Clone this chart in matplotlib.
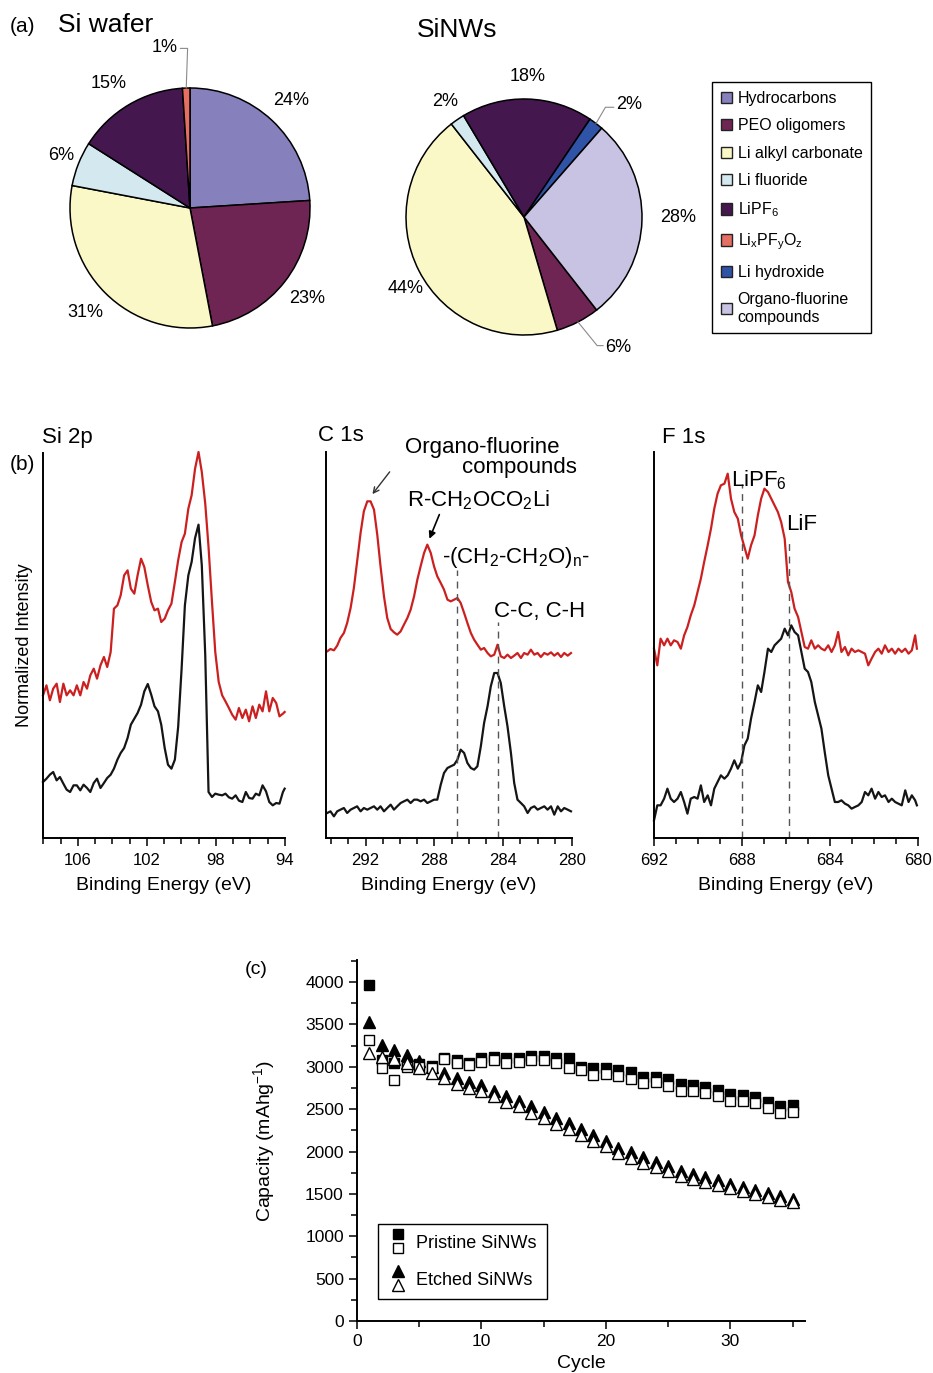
import matplotlib.pyplot as plt
import numpy as np
from matplotlib.legend_handler import HandlerBase
from matplotlib.lines import Line2D
from matplotlib.patches import Patch
from matplotlib.ticker import MultipleLocator

plt.rcParams['font.family'] = ['Liberation Sans', 'DejaVu Sans']
plt.rcParams['mathtext.default'] = 'regular'

# ---------------- (a) SEI composition (%)
components = ['Hydrocarbons', 'PEO oligomers', 'Li alkyl carbonate', 'Li fluoride',
              'LiPF$_6$', 'Li$_x$PF$_y$O$_z$', 'Li hydroxide', 'Organo-fluorine\ncompounds']
comp_colors = ['#8680bd', '#6f2553', '#fbf8c8', '#d4e9ef',
               '#45174f', '#e56f63', '#2f53a6', '#c8c3e3']
wafer_pct = [24, 23, 31, 6, 15, 1, 0, 0]
nw_pct = [0, 6, 44, 2, 18, 0, 2, 28]

# ---------------- (b) XPS spectra (arbitrary intensity units)
si_energy = [108.02, 107.82, 107.62, 107.43, 107.23, 107.04, 106.84, 106.65, 106.45, 106.25,
             106.06, 105.86, 105.67, 105.47, 105.28, 105.08, 104.89, 104.69, 104.49, 104.30,
             104.10, 103.91, 103.71, 103.52, 103.32, 103.12, 102.93, 102.73, 102.54, 102.34,
             102.15, 101.95, 101.75, 101.56, 101.36, 101.17, 100.97, 100.78, 100.58, 100.38,
             100.19, 99.99, 99.80, 99.60, 99.41, 99.21, 99.01, 98.82, 98.62, 98.43,
             98.23, 98.04, 97.84, 97.64, 97.45, 97.25, 97.06, 96.86, 96.67, 96.47,
             96.27, 96.08, 95.88, 95.69, 95.49, 95.30, 95.10, 94.91, 94.71, 94.51,
             94.32, 94.12, 94.02]
si_red = [428, 458, 413, 448, 463, 408, 463, 428, 443, 428,
          458, 428, 468, 448, 488, 508, 478, 518, 543, 513,
          558, 688, 698, 728, 788, 803, 748, 733, 788, 838,
          813, 758, 708, 683, 688, 648, 658, 683, 703, 768,
          833, 888, 913, 988, 1028, 1108, 1158, 1098, 1003, 873,
          708, 558, 468, 428, 410, 390, 370, 355, 390, 360,
          385, 350, 395, 360, 400, 380, 440, 380, 420, 405,
          365, 373, 378]
si_black = [168, 178, 190, 198, 173, 183, 163, 145, 138, 158,
            158, 143, 160, 150, 138, 165, 178, 150, 165, 180,
            190, 208, 235, 255, 270, 300, 340, 358, 375, 400,
            440, 462, 430, 395, 380, 340, 270, 220, 208, 235,
            333, 508, 698, 788, 828, 900, 940, 818, 548, 138,
            123, 133, 130, 128, 133, 122, 118, 128, 112, 108,
            138, 120, 118, 133, 128, 158, 140, 108, 98, 105,
            103, 138, 148]

c_energy = [294.23, 294.04, 293.84, 293.65, 293.46, 293.26, 293.07, 292.87, 292.68, 292.49,
            292.29, 292.10, 291.90, 291.71, 291.51, 291.32, 291.13, 290.93, 290.74, 290.54,
            290.35, 290.16, 289.96, 289.77, 289.57, 289.38, 289.18, 288.99, 288.80, 288.60,
            288.41, 288.21, 288.02, 287.83, 287.63, 287.44, 287.24, 287.05, 286.85, 286.66,
            286.47, 286.27, 286.08, 285.88, 285.69, 285.50, 285.30, 285.11, 284.91, 284.72,
            284.52, 284.33, 284.14, 283.94, 283.75, 283.55, 283.36, 283.17, 282.97, 282.78,
            282.58, 282.39, 282.19, 282.00, 281.81, 281.61, 281.42, 281.22, 281.03, 280.83,
            280.64, 280.45, 280.25, 280.06]
c_red = [560, 567, 563, 577, 600, 615, 645, 690, 750, 830,
         915, 980, 1010, 1010, 985, 910, 815, 725, 660, 627,
         617, 610, 620, 640, 660, 685, 725, 775, 815, 855,
         880, 855, 815, 785, 765, 745, 715, 710, 715, 720,
         705, 675, 645, 615, 595, 580, 565, 570, 555, 545,
         550, 580, 545, 540, 550, 540, 547, 555, 540, 555,
         550, 565, 550, 555, 543, 555, 550, 557, 547, 555,
         543, 555, 547, 555]
c_black = [75, 80, 65, 80, 85, 90, 75, 85, 90, 95,
           80, 90, 85, 90, 95, 85, 95, 80, 90, 100,
           85, 95, 105, 110, 115, 105, 115, 115, 110, 115,
           105, 110, 115, 115, 160, 195, 210, 215, 220, 235,
           265, 255, 225, 210, 205, 215, 275, 345, 395, 455,
           495, 495, 465, 395, 335, 255, 165, 115, 105, 95,
           75, 90, 95, 85, 90, 95, 85, 95, 70, 95,
           80, 90, 85, 80]

f_energy = [692.00, 691.85, 691.70, 691.54, 691.39, 691.24, 691.09, 690.93, 690.78, 690.63,
            690.48, 690.33, 690.17, 690.02, 689.87, 689.72, 689.56, 689.41, 689.26, 689.11,
            688.96, 688.80, 688.65, 688.50, 688.35, 688.19, 688.04, 687.89, 687.74, 687.59,
            687.43, 687.28, 687.13, 686.98, 686.82, 686.67, 686.52, 686.37, 686.22, 686.06,
            685.91, 685.76, 685.61, 685.45, 685.30, 685.15, 685.00, 684.85, 684.69, 684.54,
            684.39, 684.24, 684.08, 683.93, 683.78, 683.63, 683.48, 683.32, 683.17, 683.02,
            682.87, 682.71, 682.56, 682.41, 682.26, 682.11, 681.95, 681.80, 681.65, 681.50,
            681.34, 681.19, 681.04, 680.89, 680.74, 680.58, 680.43, 680.28, 680.13, 680.05]
f_red = [568, 518, 598, 578, 598, 578, 593, 588, 568, 608,
         633, 668, 698, 738, 778, 828, 878, 928, 988, 1033,
         1058, 1063, 1093, 1018, 978, 958, 908, 873, 838, 878,
         908, 968, 1018, 1048, 1038, 1018, 998, 978, 948, 898,
         768, 738, 688, 663, 618, 573, 568, 593, 568, 578,
         568, 563, 578, 558, 578, 618, 558, 573, 548, 568,
         558, 563, 558, 553, 518, 538, 558, 568, 553, 578,
         558, 568, 553, 568, 558, 568, 553, 563, 608, 568]
f_black = [53, 98, 98, 118, 148, 118, 108, 118, 138, 108,
           73, 118, 123, 118, 158, 108, 128, 98, 148, 168,
           188, 178, 188, 208, 233, 208, 228, 278, 298, 358,
           408, 458, 438, 498, 568, 558, 578, 588, 598, 628,
           608, 638, 618, 608, 558, 508, 498, 468, 408, 368,
           328, 258, 188, 148, 108, 108, 113, 103, 98, 88,
           93, 98, 108, 138, 128, 148, 118, 138, 123, 128,
           108, 118, 108, 103, 98, 143, 108, 128, 113, 98]

# ---------------- (c) cycling capacity (mAh/g)
cycles = list(range(1, 36))
pristine_filled = [3960, 3080, 3050, 3020, 3030, 3010, 3100, 3080, 3050, 3100,
                   3120, 3100, 3100, 3130, 3130, 3100, 3100, 3000, 2980, 2980,
                   2960, 2940, 2880, 2880, 2850, 2800, 2780, 2760, 2730, 2680,
                   2670, 2640, 2590, 2540, 2550]
pristine_open = [3320, 2990, 2840, 3000, 3000, 2980, 3090, 3040, 3020, 3060,
                 3080, 3050, 3060, 3080, 3080, 3040, 2990, 2960, 2900, 2920,
                 2890, 2860, 2810, 2820, 2770, 2720, 2710, 2690, 2650, 2600,
                 2600, 2570, 2510, 2460, 2470]
etched_filled = [3530, 3260, 3200, 3140, 3070, 3000, 2930, 2870, 2820, 2780,
                 2720, 2660, 2600, 2540, 2470, 2400, 2340, 2270, 2190, 2130,
                 2040, 1990, 1930, 1880, 1830, 1770, 1730, 1700, 1660, 1620,
                 1580, 1540, 1510, 1480, 1440]
etched_open = [3160, 3120, 3090, 3040, 2980, 2930, 2870, 2800, 2750, 2710,
               2650, 2590, 2540, 2460, 2390, 2330, 2260, 2190, 2120, 2060,
               1980, 1920, 1870, 1820, 1770, 1710, 1670, 1640, 1600, 1570,
               1530, 1500, 1460, 1430, 1410]

RED = '#cc2020'
BLACK = '#151515'

fig = plt.figure(figsize=(9.33, 13.73), dpi=100)


def px(x, y, w, h):
    # pixel box (left, top, width, height) -> figure fraction
    W, H = 933, 1373
    return [x / W, 1 - (y + h) / H, w / W, h / H]


# ---------------- pies
def draw_pie(ax, pct, start, dist, overrides, leaders):
    keep = [i for i, v in enumerate(pct) if v > 0]
    wedges, _ = ax.pie([pct[i] for i in keep], colors=[comp_colors[i] for i in keep],
                       startangle=start, counterclock=False,
                       wedgeprops=dict(edgecolor='black', linewidth=1.1))
    ax.set_xlim(-1, 1)
    ax.set_ylim(-1, 1)
    for i, w in zip(keep, wedges):
        name = components[i]
        mid = np.deg2rad((w.theta1 + w.theta2) / 2)
        if name in leaders:
            bend, end, tpos, ha = leaders[name]
            ax.plot([np.cos(mid), bend[0], end[0]], [np.sin(mid), bend[1], end[1]],
                    color='#8a8a8a', lw=0.8, clip_on=False)
            ax.text(tpos[0], tpos[1], f'{pct[i]}%', ha=ha, va='center', fontsize=13)
            continue
        ang, d = overrides.get(name, (np.rad2deg(mid), dist))
        a = np.deg2rad(ang)
        ax.text(d * np.cos(a), d * np.sin(a), f'{pct[i]}%', ha='center', va='center', fontsize=13)


ax_w = fig.add_axes(px(70, 88, 240, 240))
draw_pie(ax_w, wafer_pct, 90, 1.23,
         {'Li fluoride': (158, 1.16), 'LiPF$_6$': (123, 1.24)},
         {'Li$_x$PF$_y$O$_z$': ((-0.02, 1.33), (-0.08, 1.33), (-0.1, 1.34), 'right')})

ax_n = fig.add_axes(px(406, 99, 236, 236))
draw_pie(ax_n, nw_pct, -52, 1.19,
         {'Li alkyl carbonate': (-149, 1.17), 'Organo-fluorine\ncompounds': (0, 1.31)},
         {'Li hydroxide': ((0.69, 0.93), (0.76, 0.93), (0.78, 0.95), 'left'),
          'PEO oligomers': ((0.62, -1.09), (0.67, -1.09), (0.69, -1.11), 'left')})

fig.text(10 / 933, 1 - 27 / 1373, '(a)', fontsize=15, va='center')
fig.text(58 / 933, 1 - 25 / 1373, 'Si wafer', fontsize=19, va='center')
fig.text(417 / 933, 1 - 30 / 1373, 'SiNWs', fontsize=19, va='center')

handles = [Patch(facecolor=c, edgecolor='#222222', lw=1.0) for c in comp_colors]
leg = fig.legend(handles, components, loc='upper left',
                 bbox_to_anchor=(712 / 933, 1 - 82 / 1373), fontsize=11.5,
                 fancybox=False, edgecolor='black', framealpha=1,
                 handlelength=0.7, handleheight=0.7, handletextpad=0.35,
                 labelspacing=0.78, borderpad=0.55, borderaxespad=0)
leg.get_frame().set_linewidth(1.0)


# ---------------- XPS panels
def spectrum_axes(rect, xlim, ylim, ticks):
    ax = fig.add_axes(rect)
    ax.set_xlim(*xlim)
    ax.set_ylim(*ylim)
    for s in ('top', 'right'):
        ax.spines[s].set_visible(False)
    for s in ('left', 'bottom'):
        ax.spines[s].set_linewidth(1.4)
    ax.set_yticks([])
    ax.set_xticks(ticks)
    ax.xaxis.set_minor_locator(MultipleLocator(1))
    ax.tick_params(axis='x', which='major', direction='out', length=6, width=1.1,
                   labelsize=12, pad=5)
    ax.tick_params(axis='x', which='minor', direction='out', length=4, width=1.1)
    ax.set_xlabel('Binding Energy (eV)', fontsize=14, labelpad=6)
    return ax


ax_si = spectrum_axes(px(43, 453, 242, 385), (108.02, 94), (0, 1155), [106, 102, 98, 94])
ax_si.plot(si_energy, si_red, color=RED, lw=1.6, clip_on=False)
ax_si.plot(si_energy, si_black, color=BLACK, lw=1.6, clip_on=False)
ax_si.set_ylabel('Normalized Intensity', fontsize=13, labelpad=7)

ax_c = spectrum_axes(px(326, 452, 246, 386), (294.3, 280), (0, 1158), [292, 288, 284, 280])
ax_c.plot(c_energy, c_red, color=RED, lw=1.6, clip_on=False)
ax_c.plot(c_energy, c_black, color=BLACK, lw=1.6, clip_on=False)
ax_c.plot([286.7, 286.7], [0, 804], color='#555555', lw=1, ls=(0, (5, 4)))
ax_c.plot([284.3, 284.3], [0, 648], color='#555555', lw=1, ls=(0, (5, 4)))
ax_c.text(285.2, 1172, 'Organo-fluorine', fontsize=16, ha='center', va='center')
ax_c.text(283.07, 1112, 'compounds', fontsize=16, ha='center', va='center')
ax_c.annotate('', xy=(291.7, 1025), xytext=(290.5, 1105),
              arrowprops=dict(arrowstyle='->', color='#333333', lw=1))
ax_c.text(285.45, 1014, 'R-CH$_2$OCO$_2$Li', fontsize=16, ha='center', va='center')
ax_c.annotate('', xy=(288.35, 890), xytext=(287.65, 978),
              arrowprops=dict(arrowstyle='-|>', color='black', lw=1.2))
ax_c.text(283.25, 843, '-(CH$_2$-CH$_2$O)$_n$-', fontsize=16, ha='center', va='center')
ax_c.text(281.9, 678, 'C-C, C-H', fontsize=16, ha='center', va='center')

ax_f = spectrum_axes(px(654, 452, 264, 386), (692, 680), (0, 1158), [692, 688, 684, 680])
ax_f.plot(f_energy, f_red, color=RED, lw=1.6, clip_on=False)
ax_f.plot(f_energy, f_black, color=BLACK, lw=1.6, clip_on=False)
ax_f.plot([688.0, 688.0], [0, 1063], color='#555555', lw=1, ls=(0, (5, 4)))
ax_f.plot([685.87, 685.87], [0, 898], color='#555555', lw=1, ls=(0, (5, 4)))
ax_f.text(687.25, 1072, 'LiPF$_6$', fontsize=16, ha='center', va='center')
ax_f.text(685.29, 939, 'LiF', fontsize=16, ha='center', va='center')

fig.text(42 / 933, 1 - 437 / 1373, 'Si 2p', fontsize=16, va='center')
fig.text(318 / 933, 1 - 435 / 1373, 'C 1s', fontsize=16, va='center')
fig.text(662 / 933, 1 - 437 / 1373, 'F 1s', fontsize=16, va='center')
fig.text(10 / 933, 1 - 465 / 1373, '(b)', fontsize=15, va='center')


# ---------------- capacity panel
class StackedMarkers(HandlerBase):
    def create_artists(self, legend, orig_handle, xdescent, ydescent, width, height,
                       fontsize, trans):
        arts = []
        x = width / 2 - xdescent
        for h, y in zip(orig_handle, (height * 1.05 - ydescent, -height * 0.05 - ydescent)):
            m = Line2D([x], [y], linestyle='none', marker=h.get_marker(),
                       markersize=h.get_markersize() * 0.9,
                       markerfacecolor=h.get_markerfacecolor(),
                       markeredgecolor=h.get_markeredgecolor(),
                       markeredgewidth=h.get_markeredgewidth())
            m.set_transform(trans)
            arts.append(m)
        return arts


axc = fig.add_axes(px(357, 960, 448, 361))
sq_f, = axc.plot(cycles, pristine_filled, 's', ms=7.8, mfc='black', mec='black', zorder=3, clip_on=False)
tr_f, = axc.plot(cycles, etched_filled, '^', ms=8.8, mfc='black', mec='black', zorder=3, clip_on=False)
sq_o, = axc.plot(cycles, pristine_open, 's', ms=7.8, mfc='white', mec='black', mew=1.0, zorder=4, clip_on=False)
tr_o, = axc.plot(cycles, etched_open, '^', ms=8.8, mfc='white', mec='black', mew=1.0, zorder=4, clip_on=False)
axc.set_xlim(0, 36)
axc.set_ylim(0, 4260)
for s in ('top', 'right'):
    axc.spines[s].set_visible(False)
for s in ('left', 'bottom'):
    axc.spines[s].set_linewidth(1.4)
axc.xaxis.set_major_locator(MultipleLocator(10))
axc.xaxis.set_minor_locator(MultipleLocator(5))
axc.yaxis.set_major_locator(MultipleLocator(500))
axc.yaxis.set_minor_locator(MultipleLocator(250))
axc.tick_params(which='major', direction='out', length=6, width=1.1, labelsize=12.5)
axc.tick_params(which='minor', direction='out', length=4, width=1.1)
axc.set_xlabel('Cycle', fontsize=14, labelpad=4)
axc.set_ylabel('Capacity (mAhg$^{-1}$)', fontsize=14, labelpad=20)
lg = axc.legend([(sq_f, sq_o), (tr_f, tr_o)], ['Pristine SiNWs', 'Etched SiNWs'],
                handler_map={tuple: StackedMarkers()}, loc='upper left',
                bbox_to_anchor=(0.047, 0.269), fontsize=13, fancybox=False,
                edgecolor='black', framealpha=1, handlelength=1.0, handletextpad=0.5,
                labelspacing=1.1, borderpad=0.6, borderaxespad=0)
lg.get_frame().set_linewidth(1.0)
fig.text(245 / 933, 1 - 970 / 1373, '(c)', fontsize=14, va='center')

fig.savefig('out.png', dpi=100)
